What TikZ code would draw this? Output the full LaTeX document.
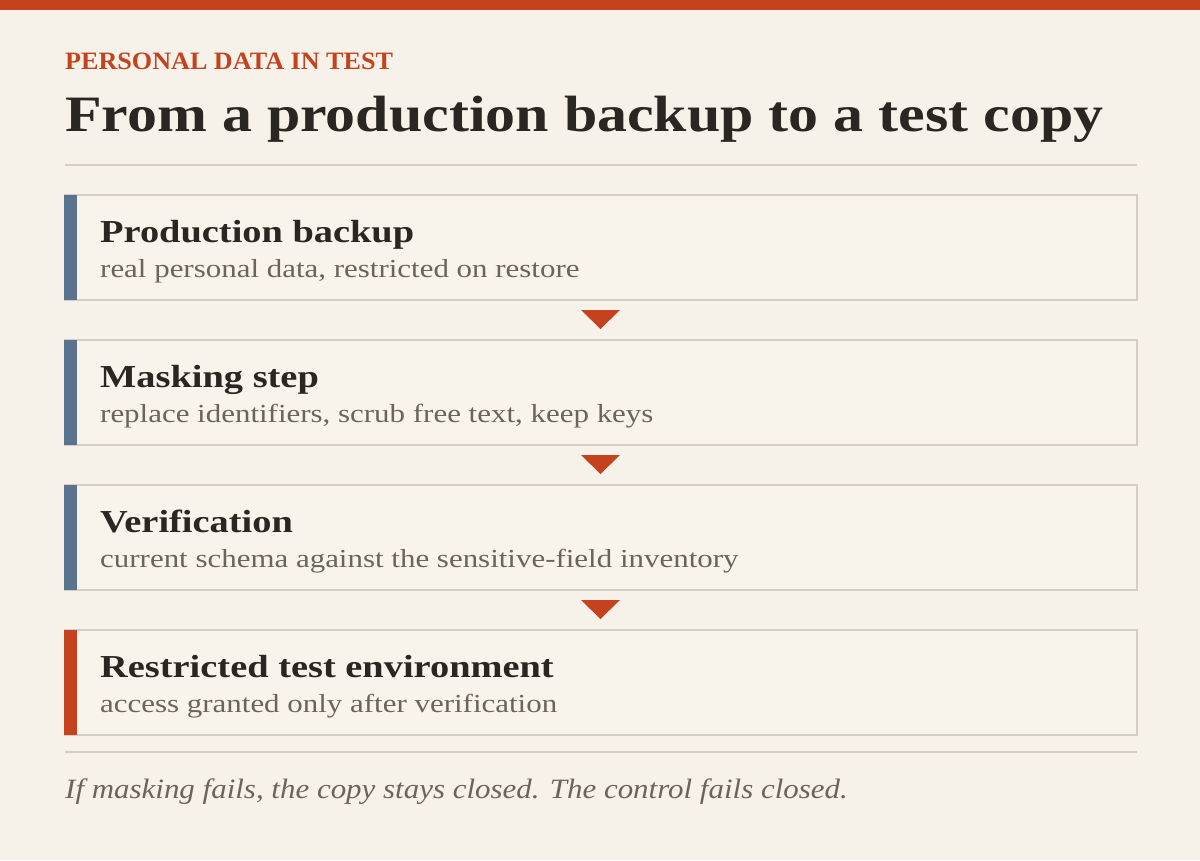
\documentclass[tikz,border=0pt]{standalone}
\usepackage{fontspec}
\setmainfont{Liberation Serif}
\newfontfamily\kickerfont[FakeStretch=1.045]{Liberation Serif}
\newfontfamily\titlefont[FakeStretch=1.175]{Liberation Serif}
\newfontfamily\boxtitlefont[FakeStretch=1.2]{Liberation Serif}
\newfontfamily\subfont[FakeStretch=1.19]{Liberation Serif}
\newfontfamily\footfont[FakeStretch=1.105]{Liberation Serif}
\definecolor{bg}{HTML}{F7F2E9}
\definecolor{boxbg}{HTML}{F8F4EC}
\definecolor{accent}{HTML}{C4421E}
\definecolor{steel}{HTML}{5A7490}
\definecolor{rulec}{HTML}{D6CEC3}
\definecolor{ink}{HTML}{2A2622}
\definecolor{muted}{HTML}{6A645B}
\tikzset{
  stepbox/.style={draw=rulec, line width=2pt, fill=boxbg},
  ttl/.style={anchor=base west, inner sep=0pt, text=ink, font=\boxtitlefont\bfseries\fontsize{32}{36}\selectfont},
  sub/.style={anchor=base west, inner sep=0pt, text=muted, font=\subfont\fontsize{26}{30}\selectfont},
}
\begin{document}
\begin{tikzpicture}[x=1pt,y=-1pt]
\useasboundingbox (0,0) rectangle (1200,860);
\fill[bg] (0,0) rectangle (1200,860);
\fill[accent] (0,0) rectangle (1200,10);
\node[anchor=base west, inner sep=0pt, text=accent, font=\kickerfont\bfseries\fontsize{25}{28}\selectfont] (kicker) at (65,69) {PERSONAL DATA IN TEST};
\node[anchor=base west, inner sep=0pt, text=ink, font=\titlefont\bfseries\fontsize{51}{60}\selectfont] (title) at (65,131) {From a production backup to a test copy};
\draw[rulec, line width=2pt] (65,165) -- (1137,165);
\foreach \y/\c in {195/steel, 340/steel, 485/steel, 630/accent}{
  \draw[stepbox] (65,\y) rectangle (1137,\y+105);
  \fill[\c] (64,\y) rectangle (77,\y+105);
}
\node[ttl] (t1) at (100,242) {Production backup};
\node[sub] (s1) at (100,277) {real personal data, restricted on restore};
\node[ttl] (t2) at (100,387) {Masking step};
\node[sub] (s2) at (100,422) {replace identifiers, scrub free text, keep keys};
\node[ttl] (t3) at (100,532) {Verification};
\node[sub] (s3) at (100,567) {current schema against the sensitive-field inventory};
\node[ttl] (t4) at (100,677) {Restricted test environment};
\node[sub] (s4) at (100,712) {access granted only after verification};
\foreach \y in {310,455,600}{
  \fill[accent] (581,\y) -- (620,\y) -- (600.5,\y+19) -- cycle;
}
\draw[rulec, line width=2pt] (65,752) -- (1137,752);
\node[anchor=base west, inner sep=0pt, text=muted, font=\footfont\itshape\fontsize{28}{32}\selectfont] (foot) at (65,798) {If masking fails, the copy stays closed. The control fails closed.};
\end{tikzpicture}
\end{document}
